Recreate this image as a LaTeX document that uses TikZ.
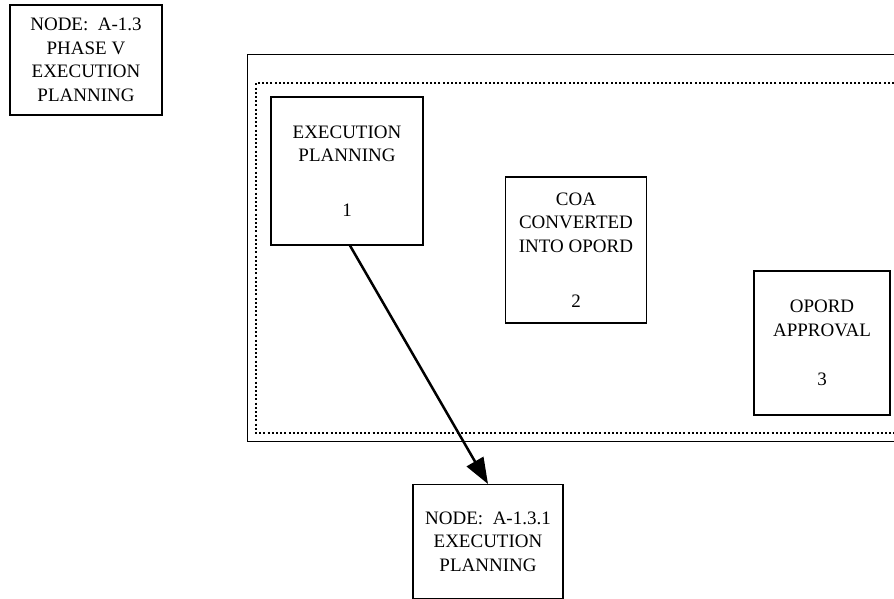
\documentclass[tikz,border=0pt]{standalone}
\usepackage{fontspec}
\setmainfont{Liberation Serif}
\usetikzlibrary{arrows.meta}
\tikzset{
  boxnode/.style={draw, line width=1.2pt, rectangle, align=center, inner sep=0pt,
    font=\fontsize{19}{23.5}\selectfont},
  frameline/.style={line width=0.9pt},
  dotline/.style={line width=2pt, dash pattern=on 2pt off 2.2pt},
  bigarrow/.style={line width=2.5pt, -{Triangle[length=26pt,width=19pt]}}
}
\begin{document}
\begin{tikzpicture}[x=1pt,y=-1pt]
\useasboundingbox (0,0) rectangle (894,598);
% outer and inner frames
\draw[frameline] (894,54) -- (247,54) -- (247,441) -- (894,441);
\draw[dotline] (894,83) -- (256,83) -- (256,433) -- (894,433);
% top-left node box
\node[boxnode, minimum width=152pt, minimum height=110pt] (tl) at (86,60)
  {NODE:~~A-1.3\\PHASE V\\EXECUTION\\PLANNING};
% activity boxes
\node[boxnode, minimum width=152pt, minimum height=148pt] (b1) at (347,171)
  {EXECUTION\\PLANNING\\[31pt]1};
\node[boxnode, minimum width=141pt, minimum height=146pt] (b2) at (576,250)
  {COA\\CONVERTED\\INTO OPORD\\[32pt]2};
\node[boxnode, minimum width=136pt, minimum height=144pt] (b3) at (822,343)
  {OPORD\\APPROVAL\\[26pt]3};
% child node box
\node[boxnode, minimum width=150pt, minimum height=114pt, anchor=north] (b4) at (488,484)
  {NODE:~~A-1.3.1\\EXECUTION\\PLANNING};
% arrow
\draw[bigarrow] ([xshift=3pt]b1.south) -- (b4.north);
\end{tikzpicture}
\end{document}
